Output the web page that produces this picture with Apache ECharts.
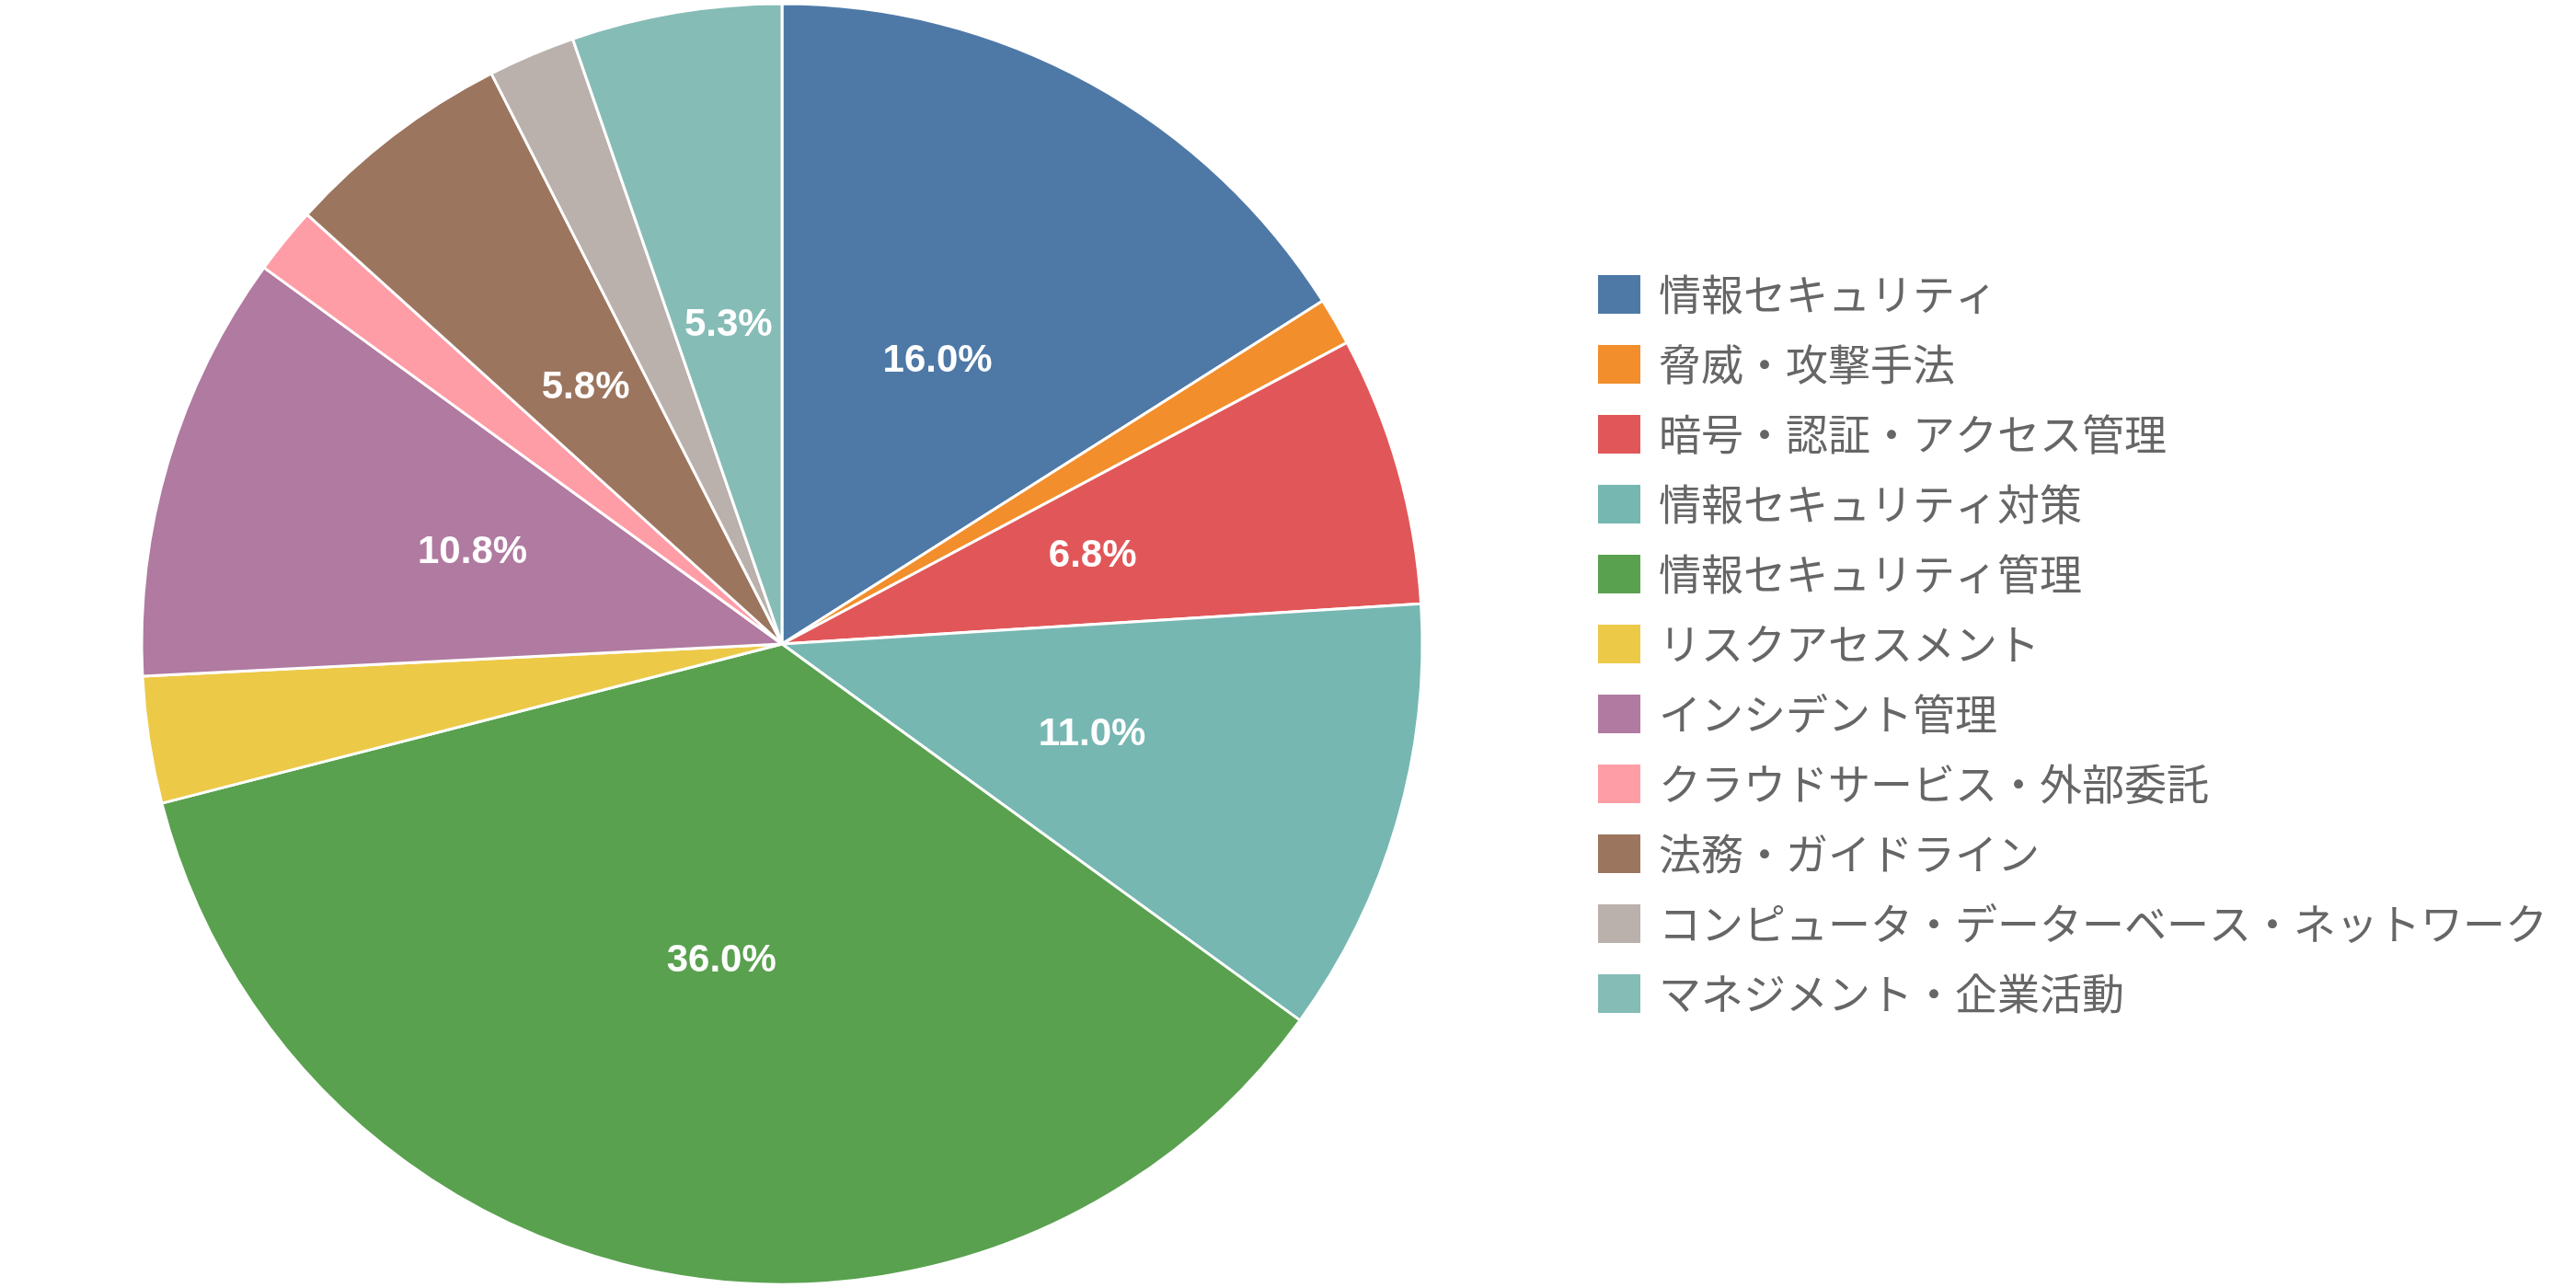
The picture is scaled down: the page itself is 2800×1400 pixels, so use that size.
<!DOCTYPE html>
<html>
<head>
<meta charset="utf-8">
<script src="https://cdn.jsdelivr.net/npm/echarts@6/dist/echarts.min.js"></script>
<style>
html,body{margin:0;padding:0;background:#fff;}
#chart{width:2800px;height:1400px;}
</style>
</head>
<body>
<div id="chart"></div>
<script>
const categories = [
  '情報セキュリティ',
  '脅威・攻撃手法',
  '暗号・認証・アクセス管理',
  '情報セキュリティ対策',
  '情報セキュリティ管理',
  'リスクアセスメント',
  'インシデント管理',
  'クラウドサービス・外部委託',
  '法務・ガイドライン',
  'コンピュータ・データーベース・ネットワーク',
  'マネジメント・企業活動'
];
const values = [16.0, 1.2, 6.8, 11.0, 36.0, 3.2, 10.8, 1.7, 5.8, 2.2, 5.3];
const colors = ['#4e79a7','#f28e2b','#e15759','#76b7b2','#59a14f','#edc948','#b07aa1','#ff9da7','#9c755f','#bab0ac','#86bcb6'];

const chart = echarts.init(document.getElementById('chart'), null, {renderer:'canvas'});
chart.setOption({
  animation: false,
  color: colors,
  legend: {
    orient: 'vertical',
    left: 1730,
    top: 'middle',
    itemWidth: 48,
    itemHeight: 44,
    itemGap: 30,
    icon: 'rect',
    textStyle: {
      fontFamily: 'Noto Sans CJK JP',
      fontSize: 46,
      color: '#666666',
      padding: [0, 0, 0, 14]
    },
    data: categories
  },
  series: [{
    type: 'pie',
    center: [850, 700],
    radius: [0, 696],
    startAngle: 90,
    clockwise: true,
    avoidLabelOverlap: false,
    itemStyle: { borderColor: '#ffffff', borderWidth: 3 },
    label: {
      show: true,
      position: 'inside',
      color: '#ffffff',
      fontFamily: 'Liberation Sans',
      fontWeight: 'bold',
      fontSize: 42,
      formatter: function (p) { return p.percent >= 5 ? p.percent.toFixed(1) + '%' : ''; }
    },
    labelLine: { show: false },
    emphasis: { disabled: true },
    data: categories.map((c, i) => ({ name: c, value: values[i] }))
  }]
});
</script>
</body>
</html>
